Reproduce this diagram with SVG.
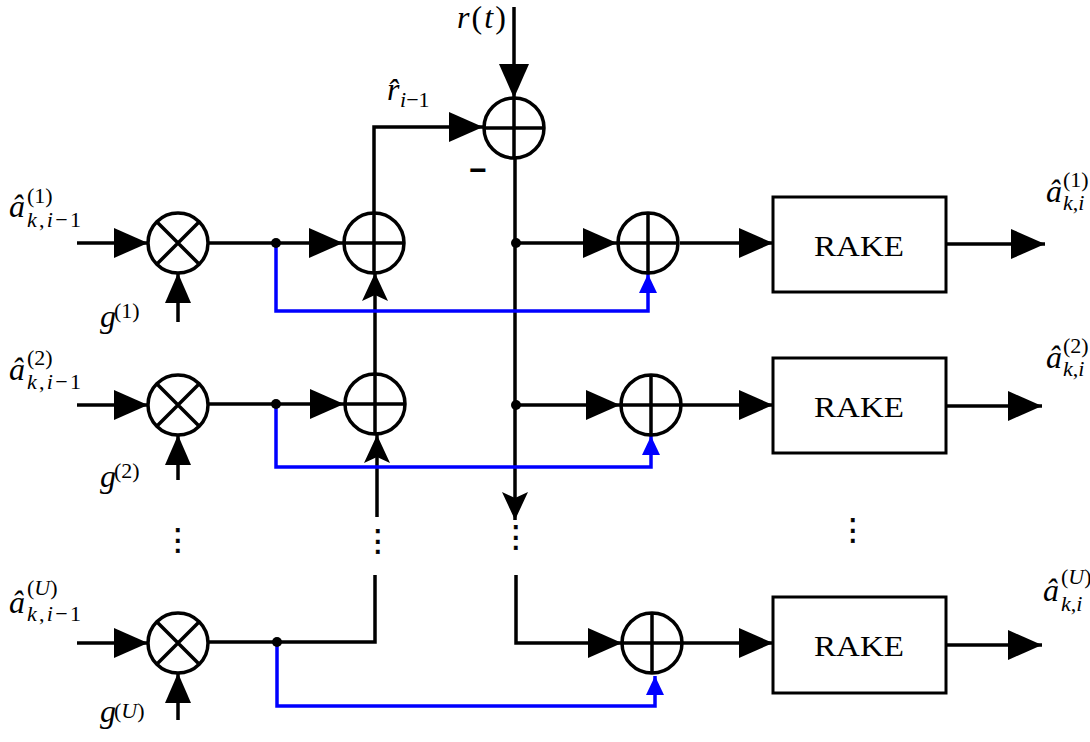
<svg xmlns="http://www.w3.org/2000/svg" width="1090" height="742" viewBox="0 0 1090 742">
<defs>
<style>
.ln{fill:none;stroke:#000;stroke-width:3.5}
.bl{fill:none;stroke:#0000ff;stroke-width:3.5}
.nd{fill:#fff;stroke:#000;stroke-width:3.5}
.bx{fill:#fff;stroke:#000;stroke-width:3}
.m{font-family:"Liberation Serif",serif;font-size:32px;font-style:italic;fill:#000}
.s{font-family:"Liberation Serif",serif;font-size:22px;fill:#000}
.i{font-style:italic}
.rk{font-family:"Liberation Serif",serif;font-size:30px;fill:#000;text-anchor:middle}
.vd{font-family:"DejaVu Sans",sans-serif;font-size:30px;fill:#000;stroke:#000;stroke-width:0.6;text-anchor:middle}
</style>
<marker id="arr" markerUnits="userSpaceOnUse" markerWidth="34" markerHeight="30" refX="34" refY="15" orient="auto" viewBox="0 0 34 30"><path d="M0,0 L34,15 L0,30 Z" fill="#000"/></marker>
<marker id="arrS" markerUnits="userSpaceOnUse" markerWidth="30" markerHeight="26" refX="30" refY="13" orient="auto" viewBox="0 0 30 26"><path d="M0,0 L30,13 L0,26 Z" fill="#000"/></marker>
<marker id="stl" markerUnits="userSpaceOnUse" markerWidth="28" markerHeight="26" refX="28" refY="13" orient="auto" viewBox="0 0 28 26"><path d="M0,0 L28,13 L0,26 L6,13 Z" fill="#000"/></marker>
<marker id="blu" markerUnits="userSpaceOnUse" markerWidth="19" markerHeight="18" refX="19" refY="9" orient="auto" viewBox="0 0 19 18"><path d="M0,0 L19,9 L0,18 Z" fill="#0000ff"/></marker>
</defs>
<rect width="1090" height="742" fill="#fff"/>

<g id="connectors">
<path class="ln" d="M77,243 H148" marker-end="url(#arr)"/>
<path class="ln" d="M77,405 H148" marker-end="url(#arr)"/>
<path class="ln" d="M77,643 H148" marker-end="url(#arr)"/>
<path class="ln" d="M178,322 V273" marker-end="url(#arrS)"/>
<path class="ln" d="M178,480 V435" marker-end="url(#arrS)"/>
<path class="ln" d="M178,720 V673" marker-end="url(#arrS)"/>
<path class="ln" d="M208,243 H343" marker-end="url(#arr)"/>
<path class="ln" d="M208,404 H344" marker-end="url(#arr)"/>
<path class="ln" d="M208,642 H375 V575"/>
<path class="ln" d="M374,212 V127 H483" marker-end="url(#arr)"/>
<path class="ln" d="M375,373 V273" marker-end="url(#stl)"/>
<path class="ln" d="M377,517 V435" marker-end="url(#stl)"/>
<path class="ln" d="M514,7 V98" marker-end="url(#arr)"/>
<path class="ln" d="M515,159 V520" marker-end="url(#stl)"/>
<path class="ln" d="M516,243 H617" marker-end="url(#arr)"/>
<path class="ln" d="M516,405 H620" marker-end="url(#arr)"/>
<path class="ln" d="M516,575 V643 H622" marker-end="url(#arr)"/>
<path class="ln" d="M680,243 H773" marker-end="url(#arr)"/>
<path class="ln" d="M682,405 H773" marker-end="url(#arr)"/>
<path class="ln" d="M683,643 H773" marker-end="url(#arr)"/>
<path class="ln" d="M946,244 H1045" marker-end="url(#arr)"/>
<path class="ln" d="M946,406 H1042" marker-end="url(#arr)"/>
<path class="ln" d="M946,645 H1042" marker-end="url(#arr)"/>
<path class="bl" d="M276,243 V311 H648 V274" marker-end="url(#blu)"/>
<path class="bl" d="M276,404 V467 H651 V436" marker-end="url(#blu)"/>
<path class="bl" d="M277,642 V706 H655 V676" marker-end="url(#blu)"/>
<circle cx="276" cy="243" r="5" fill="#000"/>
<circle cx="276" cy="404" r="5" fill="#000"/>
<circle cx="277" cy="642" r="5" fill="#000"/>
<circle cx="516" cy="243" r="5" fill="#000"/>
<circle cx="516" cy="405" r="5" fill="#000"/>
</g>

<g id="mult1"><circle class="nd" cx="178" cy="243" r="30"/><path class="ln" d="M157,222 L199,264 M199,222 L157,264"/></g>
<g id="mult2"><circle class="nd" cx="178" cy="405" r="30"/><path class="ln" d="M157,384 L199,426 M199,384 L157,426"/></g>
<g id="mult3"><circle class="nd" cx="178" cy="643" r="30"/><path class="ln" d="M157,622 L199,664 M199,622 L157,664"/></g>

<g id="addL1"><circle class="nd" cx="374" cy="243" r="30"/><path class="ln" d="M344,243 H404 M374,213 V273"/></g>
<g id="addL2"><circle class="nd" cx="375" cy="404" r="30"/><path class="ln" d="M345,404 H405 M375,374 V434"/></g>
<g id="addTop"><circle class="nd" cx="514" cy="128" r="30"/><path class="ln" d="M484,128 H544 M514,98 V158"/></g>
<g id="addR1"><circle class="nd" cx="648" cy="243" r="30"/><path class="ln" d="M618,243 H678 M648,213 V273"/></g>
<g id="addR2"><circle class="nd" cx="651" cy="405" r="30"/><path class="ln" d="M621,405 H681 M651,375 V435"/></g>
<g id="addR3"><circle class="nd" cx="652" cy="643" r="30"/><path class="ln" d="M622,643 H682 M652,613 V673"/></g>

<g id="rake1"><rect class="bx" x="773" y="197" width="173" height="95"/><text class="rk" x="859" y="256" textLength="90" lengthAdjust="spacingAndGlyphs">RAKE</text></g>
<g id="rake2"><rect class="bx" x="773" y="358" width="173" height="95"/><text class="rk" x="859" y="417" textLength="90" lengthAdjust="spacingAndGlyphs">RAKE</text></g>
<g id="rake3"><rect class="bx" x="773" y="597" width="173" height="96"/><text class="rk" x="859" y="656" textLength="90" lengthAdjust="spacingAndGlyphs">RAKE</text></g>

<g id="labels">
<text class="m" x="9" y="217">â</text>
<text class="s" x="27" y="203">(1)</text>
<text class="s" x="27" y="227" textLength="54" lengthAdjust="spacing"><tspan class="i">k</tspan>,<tspan class="i">i</tspan>−1</text>
<text class="m" x="9" y="380">â</text>
<text class="s" x="27" y="365">(2)</text>
<text class="s" x="27" y="389" textLength="54" lengthAdjust="spacing"><tspan class="i">k</tspan>,<tspan class="i">i</tspan>−1</text>
<text class="m" x="9" y="613">â</text>
<text class="s" x="27" y="595">(<tspan class="i">U</tspan>)</text>
<text class="s" x="27" y="621" textLength="54" lengthAdjust="spacing"><tspan class="i">k</tspan>,<tspan class="i">i</tspan>−1</text>
<text class="m" x="100" y="327">g</text>
<text class="s" x="114" y="318">(1)</text>
<text class="m" x="100" y="487">g</text>
<text class="s" x="114" y="478">(2)</text>
<text class="m" x="100" y="722">g</text>
<text class="s" x="114" y="718">(<tspan class="i">U</tspan>)</text>
<text class="m" x="457" y="28" textLength="49" lengthAdjust="spacing">r<tspan font-style="normal">(</tspan>t<tspan font-style="normal">)</tspan></text>
<text class="m" x="387" y="100">r̂</text>
<text class="s" x="400" y="107"><tspan class="i">i</tspan>−1</text>
<text x="478" y="180" font-family="Liberation Sans, sans-serif" font-size="30" font-weight="bold" text-anchor="middle">−</text>
<text class="m" x="1046" y="202">â</text>
<text class="s" x="1063" y="187">(1)</text>
<text class="s" x="1063" y="210"><tspan class="i">k</tspan>,<tspan class="i">i</tspan></text>
<text class="m" x="1046" y="368">â</text>
<text class="s" x="1063" y="353">(2)</text>
<text class="s" x="1063" y="376"><tspan class="i">k</tspan>,<tspan class="i">i</tspan></text>
<text class="m" x="1043" y="601">â</text>
<text class="s" x="1061" y="584" font-size="19">(<tspan class="i">U</tspan>)</text>
<text class="s" x="1061" y="611"><tspan class="i">k</tspan>,<tspan class="i">i</tspan></text>
<text class="vd" x="178" y="550">⋮</text>
<text class="vd" x="378" y="551">⋮</text>
<text class="vd" x="516" y="547">⋮</text>
<text class="vd" x="853" y="540">⋮</text>
</g>
</svg>
